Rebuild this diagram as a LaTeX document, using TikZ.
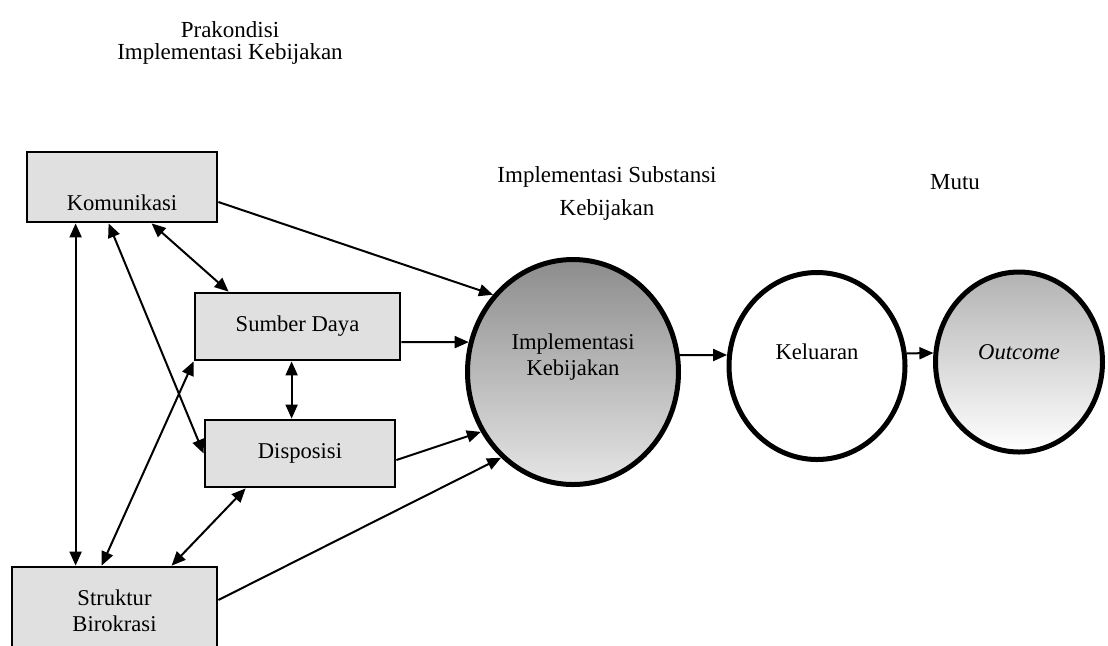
\documentclass[tikz,border=0pt]{standalone}
\usepackage{fontspec}
\setmainfont{Liberation Serif}
\usetikzlibrary{arrows.meta,positioning,shapes.geometric}

\begin{document}
\begin{tikzpicture}[
  x=0.5pt,y=-0.5pt,
  >={Triangle[length=7pt,width=6pt]},
  font=\fontsize{11.3}{13}\selectfont,
  factor/.style={draw,line width=1.4pt,fill=black!12,inner sep=2pt,align=center},
  stage/.style={ellipse,draw,line width=2.5pt,inner sep=0pt,align=center},
  heading/.style={align=center,font=\fontsize{11.5}{16.5}\selectfont},
  lift/.style={text depth=#1},
  link/.style={<->,line width=1pt},
  flow/.style={->,line width=1pt}
]
  \useasboundingbox (0,0) rectangle (1108,645);

  \node[heading,font=\fontsize{11.5}{11}\selectfont] (prakondisi) at (230,43) {Prakondisi\\Implementasi Kebijakan};
  \node[heading] (substansi) at (607,193) {Implementasi Substansi\\Kebijakan};
  \node[heading] (mutu) at (955,182) {Mutu};

  \node[factor,minimum width=95pt,minimum height=35pt,text height=24pt] (komunikasi) at (122,187) {Komunikasi};
  \node[factor,minimum width=102.5pt,minimum height=33.5pt] (sumber) at (297.5,326.5) {Sumber Daya};
  \node[factor,minimum width=95pt,minimum height=33.5pt] (disposisi) at (300,453.5) {Disposisi};
  \node[factor,minimum width=102.5pt,minimum height=44pt] (struktur) at (114.5,611) {Struktur\\Birokrasi};

  \node[stage,minimum width=105.5pt,minimum height=112.5pt,top color=black!45,bottom color=black!10,lift=17pt] (implementasi) at (573,372) {Implementasi\\Kebijakan};
  \node[stage,minimum width=88pt,minimum height=93.5pt,fill=white,lift=14pt] (keluaran) at (817,366) {Keluaran};
  \node[stage,minimum width=83.5pt,minimum height=90pt,top color=black!30,bottom color=white,lift=10pt] (outcome) at (1019,362) {\textit{Outcome}};

  \draw[link] ([xshift=25pt]komunikasi.south west) -- ([xshift=25pt]komunikasi.south west |- struktur.north);
  \draw[link] ([xshift=63pt]komunikasi.south west) -- ([xshift=17.5pt]sumber.north west);
  \draw[link] ([xshift=41.5pt]komunikasi.south west) -- (disposisi.west);
  \draw[link] ([xshift=45.5pt]struktur.north west) -- (sumber.south west);
  \draw[link] ([xshift=80.5pt]struktur.north west) -- ([xshift=21pt]disposisi.south west);
  \draw[link] ([xshift=49pt]sumber.south west) -- ([xshift=49pt]sumber.south west |- disposisi.north);

  \draw[flow] ([yshift=-7.5pt]komunikasi.east) -- (implementasi.136);
  \draw[flow] ([yshift=-7.75pt]sumber.east) -- (implementasi.164);
  \draw[flow] ([yshift=-3.25pt]disposisi.east) -- (implementasi.213);
  \draw[flow] ([yshift=5.5pt]struktur.east) -- (implementasi.230);
  \draw[flow] (implementasi.9) -- (keluaran.173);
  \draw[flow] (keluaran.8) -- (outcome.174);
\end{tikzpicture}
\end{document}
